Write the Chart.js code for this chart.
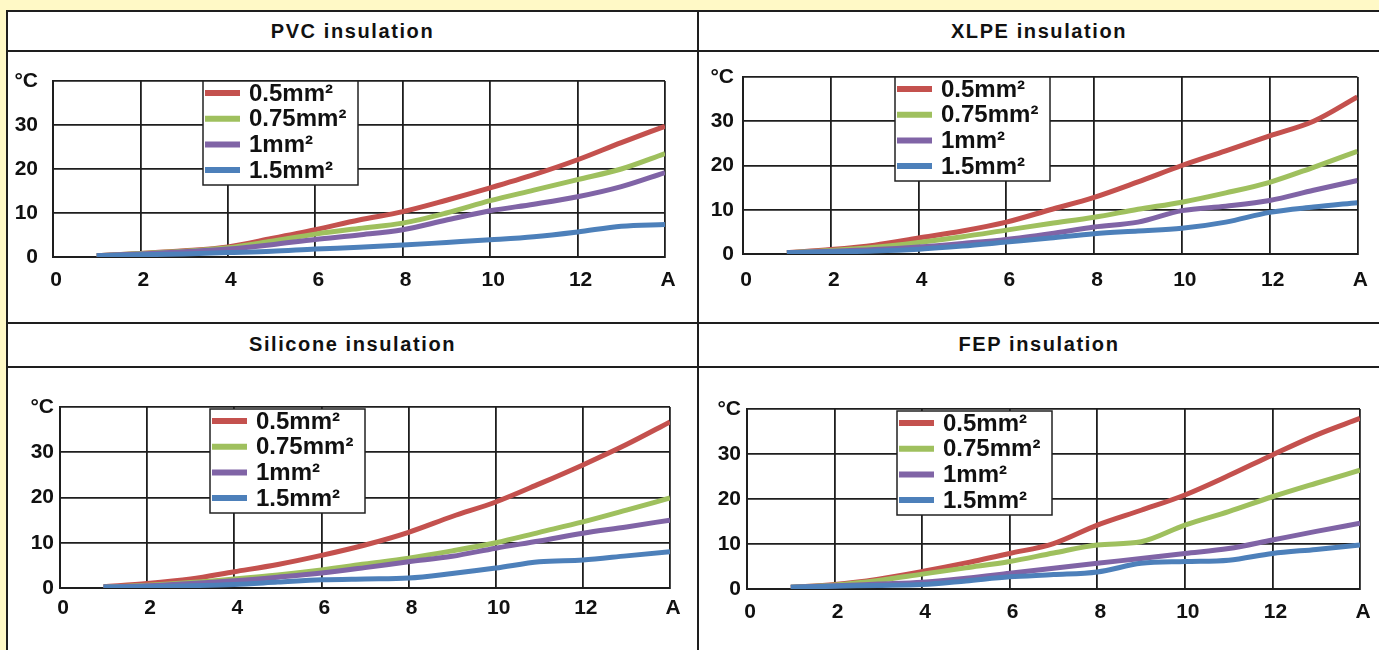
<!DOCTYPE html>
<html>
<head>
<meta charset="utf-8">
<script src="https://cdn.jsdelivr.net/npm/chart.js@4.4.1/dist/chart.umd.min.js"></script>
<style>
  html, body { margin: 0; padding: 0; }
  body { width: 1379px; height: 650px; background: #fff9c6; position: relative; overflow: hidden; font-family: 'Liberation Sans', Arial, sans-serif; }
  .sheet { position: absolute; left: 7px; top: 11px; right: 0; bottom: 0; background: #fff; }
  .line { position: absolute; background: #1e1e1e; }
  .title { position: absolute; text-align: center; font-weight: bold; font-size: 20px; letter-spacing: 1.6px; color: #111; }
  canvas { position: absolute; }
</style>
</head>
<body>
<div class="sheet"></div>
<div class="line" style="left:6px;top:10px;width:1373px;height:2px"></div>
<div class="line" style="left:6px;top:10px;width:2px;height:640px"></div>
<div class="line" style="left:697px;top:10px;width:2px;height:640px"></div>
<div class="line" style="left:6px;top:50px;width:1373px;height:2px"></div>
<div class="line" style="left:6px;top:322px;width:1373px;height:2px"></div>
<div class="line" style="left:6px;top:366px;width:1373px;height:2px"></div>
<div id="t0" class="title" style="left:8px;top:12px;width:689px;height:38px;line-height:38px"></div>
<div id="t1" class="title" style="left:699px;top:12px;width:680px;height:38px;line-height:38px"></div>
<div id="t2" class="title" style="left:8px;top:324px;width:689px;height:42px;line-height:40px"></div>
<div id="t3" class="title" style="left:699px;top:324px;width:680px;height:42px;line-height:40px"></div>
<canvas id="c0" width="689" height="270" style="left:8px;top:52px"></canvas>
<canvas id="c1" width="680" height="270" style="left:699px;top:52px"></canvas>
<canvas id="c2" width="689" height="282" style="left:8px;top:368px"></canvas>
<canvas id="c3" width="680" height="282" style="left:699px;top:368px"></canvas>
<script>
// current in A
const currents = [1, 2, 3, 4, 5, 6, 7, 8, 9, 10, 11, 12, 13, 14];
const xTickLabels = ['0', '2', '4', '6', '8', '10', '12', 'A'];
const yTickLabels = ['0', '10', '20', '30', '°C'];
const sizeLabels = ['0.5mm²', '0.75mm²', '1mm²', '1.5mm²'];
const panelTitles = ['PVC insulation', 'XLPE insulation', 'Silicone insulation', 'FEP insulation'];

// temperature rise in °C, per wire size
const pvc05  = [0.3, 0.8, 1.4, 2.3, 4.2, 6.2, 8.4, 10.3, 12.9, 15.7, 18.7, 22.1, 26.0, 29.7];
const pvc075 = [0.3, 0.8, 1.3, 2.1, 3.6, 5.2, 6.5, 7.7, 10.0, 12.8, 15.2, 17.6, 20.0, 23.5];
const pvc1   = [0.3, 0.7, 1.2, 1.8, 2.8, 4.0, 5.0, 6.2, 8.4, 10.5, 12.0, 13.7, 16.0, 19.2];
const pvc15  = [0.3, 0.5, 0.7, 1.0, 1.3, 1.8, 2.2, 2.7, 3.3, 3.9, 4.6, 5.7, 7.0, 7.4];

const xlpe05  = [0.3, 1.0, 2.0, 3.6, 5.2, 7.2, 10.0, 12.8, 16.3, 20.0, 23.3, 26.7, 30.0, 35.5];
const xlpe075 = [0.3, 0.8, 1.5, 2.6, 3.9, 5.4, 6.9, 8.3, 10.1, 11.7, 13.8, 16.2, 19.6, 23.2];
const xlpe1   = [0.3, 0.6, 1.0, 1.6, 2.4, 3.3, 4.6, 6.1, 7.2, 9.8, 10.8, 12.1, 14.4, 16.6];
const xlpe15  = [0.3, 0.5, 0.7, 1.1, 1.8, 2.7, 3.6, 4.6, 5.2, 5.8, 7.2, 9.4, 10.6, 11.6];

const sil05  = [0.3, 1.0, 2.0, 3.6, 5.2, 7.2, 9.5, 12.3, 15.8, 19.0, 23.0, 27.2, 31.7, 36.7];
const sil075 = [0.2, 0.6, 1.2, 2.0, 2.9, 4.0, 5.3, 6.6, 8.2, 10.0, 12.3, 14.6, 17.2, 19.9];
const sil1   = [0.2, 0.5, 1.0, 1.6, 2.4, 3.3, 4.5, 5.8, 7.0, 8.8, 10.4, 12.1, 13.5, 15.0];
const sil15  = [0.2, 0.3, 0.5, 0.8, 1.3, 1.8, 2.0, 2.2, 3.2, 4.4, 5.8, 6.2, 7.1, 8.0];

const fep05  = [0.4, 1.0, 2.2, 3.9, 5.8, 7.9, 10.1, 14.2, 17.5, 20.9, 25.2, 29.8, 34.2, 37.9];
const fep075 = [0.4, 0.9, 1.9, 3.3, 4.7, 6.1, 8.0, 9.8, 10.5, 14.2, 17.2, 20.5, 23.5, 26.4];
const fep1   = [0.4, 0.7, 1.1, 1.5, 2.4, 3.5, 4.6, 5.7, 6.8, 7.9, 9.0, 10.9, 12.8, 14.6];
const fep15  = [0.4, 0.6, 0.8, 1.0, 1.8, 2.7, 3.2, 3.8, 5.7, 6.1, 6.4, 7.9, 8.8, 9.8];

const lineColors = ['#c4514e', '#9fc05e', '#8064a6', '#4d80ba'];
const axisFont = "'Liberation Sans', Arial, sans-serif";

// canvas rect + wanted plot rect (page px) for each panel
const panels = [
  { series: [pvc05, pvc075, pvc1, pvc15],     canvas: [8, 52, 689, 270],   plot: [53, 81, 665, 257],   yPad: 15, xPad: 11, legend: [150, 0] },
  { series: [xlpe05, xlpe075, xlpe1, xlpe15], canvas: [699, 52, 680, 270], plot: [743, 77, 1363, 254], yPad: 9,  xPad: 14, legend: [152, 0] },
  { series: [sil05, sil075, sil1, sil15],     canvas: [8, 368, 689, 282],  plot: [60, 407, 670, 588],  yPad: 6,  xPad: 8,  legend: [150, 2] },
  { series: [fep05, fep075, fep1, fep15],     canvas: [699, 368, 680, 282], plot: [747, 409, 1360, 589], yPad: 6, xPad: 11, legend: [150, 2] }
];

const boxLegend = {
  id: 'boxLegend',
  afterDraw(chart, args, opts) {
    const ctx = chart.ctx;
    const a = chart.chartArea;
    const x = a.left + opts.dx, y = a.top + opts.dy, w = 155, h = 104;
    ctx.save();
    ctx.fillStyle = '#fff';
    ctx.fillRect(x, y, w, h);
    ctx.strokeStyle = '#222';
    ctx.lineWidth = 1.5;
    ctx.strokeRect(x, y, w, h);
    chart.data.datasets.forEach((ds, i) => {
      const cy = y + 12 + i * 25.7;
      ctx.strokeStyle = ds.borderColor;
      ctx.lineWidth = 6;
      ctx.beginPath();
      ctx.moveTo(x + 2, cy);
      ctx.lineTo(x + 37, cy);
      ctx.stroke();
      ctx.fillStyle = '#111';
      ctx.font = "bold 24px " + axisFont;
      ctx.textBaseline = 'middle';
      ctx.fillText(ds.label, x + 46, cy + 1);
    });
    ctx.restore();
  }
};

const yW = 40, xH = 40;

panels.forEach((p, k) => {
  document.getElementById('t' + k).textContent = panelTitles[k];
  const [cx, cy, cw, ch] = p.canvas;
  const [L, T, R, B] = p.plot;
  const datasets = p.series.map((vals, i) => ({
    label: sizeLabels[i],
    data: currents.map((c, j) => ({ x: c, y: vals[j] })),
    borderColor: lineColors[i],
    borderWidth: 5,
    pointRadius: 0,
    cubicInterpolationMode: 'monotone',
    order: 4 - i
  }));
  new Chart(document.getElementById('c' + k), {
    type: 'line',
    data: { datasets },
    plugins: [boxLegend],
    options: {
      responsive: false,
      animation: false,
      devicePixelRatio: 1,
      layout: { padding: { left: L - cx - yW, top: T - cy, right: cx + cw - R, bottom: cy + ch - B - xH } },
      plugins: {
        legend: { display: false },
        tooltip: { enabled: false },
        boxLegend: { dx: p.legend[0], dy: p.legend[1] }
      },
      scales: {
        x: {
          type: 'linear', min: 0, max: 14,
          afterFit(s) { s.height = xH; },
          ticks: {
            stepSize: 2, autoSkip: false, maxRotation: 0, padding: p.xPad, labelOffset: 3,
            color: '#111', font: { family: axisFont, size: 21, weight: 'bold' },
            callback: v => xTickLabels[v / 2]
          },
          grid: { color: '#1e1e1e', lineWidth: 1.8, drawTicks: false },
          border: { color: '#1e1e1e', width: 2 }
        },
        y: {
          min: 0, max: 40,
          afterFit(s) { s.width = yW; },
          ticks: {
            stepSize: 10, padding: p.yPad,
            color: '#111', font: { family: axisFont, size: 21, weight: 'bold' },
            callback: v => yTickLabels[v / 10]
          },
          grid: { color: '#1e1e1e', lineWidth: 1.8, drawTicks: false },
          border: { color: '#1e1e1e', width: 2 }
        }
      }
    }
  });
});
</script>
</body>
</html>
